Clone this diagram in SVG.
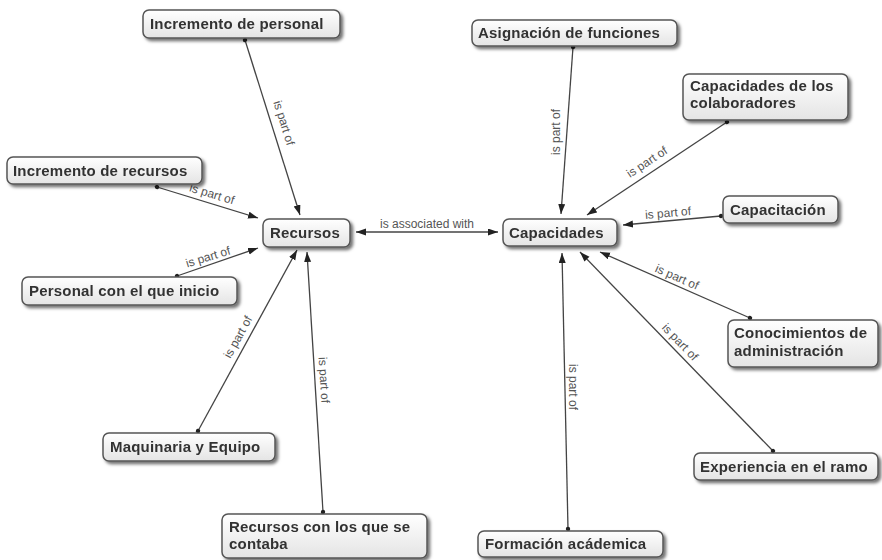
<svg xmlns="http://www.w3.org/2000/svg" width="882" height="560" viewBox="0 0 882 560">
<style>
.box{fill:url(#g);stroke:#555;stroke-width:1.5}
.t{font-family:"Liberation Sans",Arial,sans-serif;font-size:15px;font-weight:bold;fill:#333;letter-spacing:0.2px}
.c{stroke:#444;stroke-width:1.3;fill:none;marker-end:url(#arr);marker-start:url(#dot)}
.l{font-family:"Liberation Sans",Arial,sans-serif;font-size:12px;fill:#555;text-anchor:middle;dominant-baseline:central}
</style>
<defs>
<linearGradient id="g" x1="0" y1="0" x2="0" y2="1">
<stop offset="0" stop-color="#ffffff"/>
<stop offset="1" stop-color="#e4e4e4"/>
</linearGradient>
<filter id="sh" x="-10%" y="-20%" width="130%" height="160%">
<feDropShadow dx="2.5" dy="2.5" stdDeviation="1.5" flood-color="#000" flood-opacity="0.55"/>
</filter>
<marker id="arr" markerUnits="userSpaceOnUse" markerWidth="11" markerHeight="8" refX="10" refY="3.5" orient="auto-start-reverse">
<path d="M0,0 L10,3.5 L0,7 z" fill="#222"/>
</marker>
<marker id="dot" markerUnits="userSpaceOnUse" markerWidth="6" markerHeight="6" refX="3" refY="3" orient="auto">
<circle cx="3" cy="3" r="2.2" fill="#222"/>
</marker>
</defs>
<rect width="882" height="560" fill="#fff"/>
<g id="connectors">
<line class="c" x1="245" y1="40" x2="300" y2="215"/>
<line class="c" x1="157" y1="187" x2="258" y2="218"/>
<line class="c" x1="177" y1="276" x2="258" y2="248"/>
<line class="c" x1="198" y1="431" x2="297" y2="250"/>
<line class="c" x1="323" y1="512" x2="307" y2="252"/>
<line x1="356" y1="232" x2="498" y2="232" stroke="#444" stroke-width="1.3" marker-start="url(#arr)" marker-end="url(#arr)"/>
<line class="c" x1="573" y1="47" x2="561" y2="214"/>
<line class="c" x1="727" y1="122" x2="587" y2="215"/>
<line class="c" x1="721" y1="216" x2="623" y2="225"/>
<line class="c" x1="750" y1="318" x2="600" y2="252"/>
<line class="c" x1="773" y1="451" x2="580" y2="252"/>
<line class="c" x1="568" y1="529" x2="562" y2="253"/>
<text class="l" transform="translate(284,123) rotate(72.6)">is part of</text>
<text class="l" transform="translate(212,194) rotate(17)">is part of</text>
<text class="l" transform="translate(208,257) rotate(-17)">is part of</text>
<text class="l" transform="translate(238,337) rotate(-61)">is part of</text>
<text class="l" transform="translate(324,380) rotate(86.5)">is part of</text>
<text class="l" x="427" y="224">is associated with</text>
<text class="l" transform="translate(556,132) rotate(-90)">is part of</text>
<text class="l" transform="translate(647,162) rotate(-33.6)">is part of</text>
<text class="l" transform="translate(668,213) rotate(-5)">is part of</text>
<text class="l" transform="translate(677,277) rotate(23.7)">is part of</text>
<text class="l" transform="translate(680,342) rotate(46)">is part of</text>
<text class="l" transform="translate(573,387) rotate(90)">is part of</text>
</g>
<g id="n-incremento-personal" filter="url(#sh)"><rect class="box" x="143" y="10" width="197" height="28" rx="6"/><text class="t" x="150" y="29">Incremento de personal</text></g>
<g id="n-incremento-recursos" filter="url(#sh)"><rect class="box" x="7" y="157" width="195" height="27" rx="6"/><text class="t" x="13" y="176">Incremento de recursos</text></g>
<g id="n-recursos" filter="url(#sh)"><rect class="box" x="263" y="219" width="87" height="28" rx="6"/><text class="t" x="270" y="238">Recursos</text></g>
<g id="n-personal-inicio" filter="url(#sh)"><rect class="box" x="22" y="277" width="215" height="28" rx="6"/><text class="t" x="29" y="296">Personal con el que inicio</text></g>
<g id="n-maquinaria" filter="url(#sh)"><rect class="box" x="103" y="433" width="172" height="28" rx="6"/><text class="t" x="110" y="452">Maquinaria y Equipo</text></g>
<g id="n-recursos-contaba" filter="url(#sh)"><rect class="box" x="222" y="514" width="205" height="44" rx="6"/><text class="t" x="229" y="532">Recursos con los que se</text><text class="t" x="229" y="549">contaba</text></g>
<g id="n-asignacion" filter="url(#sh)"><rect class="box" x="472" y="20" width="205" height="26" rx="6"/><text class="t" x="478" y="38">Asignación de funciones</text></g>
<g id="n-capacidades-colab" filter="url(#sh)"><rect class="box" x="683" y="74" width="165" height="46" rx="6"/><text class="t" x="690" y="91">Capacidades de los</text><text class="t" x="690" y="108">colaboradores</text></g>
<g id="n-capacitacion" filter="url(#sh)"><rect class="box" x="723" y="196" width="115" height="27" rx="6"/><text class="t" x="730" y="215">Capacitación</text></g>
<g id="n-capacidades" filter="url(#sh)"><rect class="box" x="503" y="219" width="114" height="27" rx="6"/><text class="t" x="509" y="238">Capacidades</text></g>
<g id="n-conocimientos" filter="url(#sh)"><rect class="box" x="728" y="320" width="150" height="47" rx="6"/><text class="t" x="734" y="338">Conocimientos de</text><text class="t" x="734" y="356">administración</text></g>
<g id="n-experiencia" filter="url(#sh)"><rect class="box" x="694" y="453" width="184" height="27" rx="6"/><text class="t" x="700" y="472">Experiencia en el ramo</text></g>
<g id="n-formacion" filter="url(#sh)"><rect class="box" x="478" y="531" width="185" height="26" rx="6"/><text class="t" x="485" y="549">Formación acádemica</text></g>
</svg>
